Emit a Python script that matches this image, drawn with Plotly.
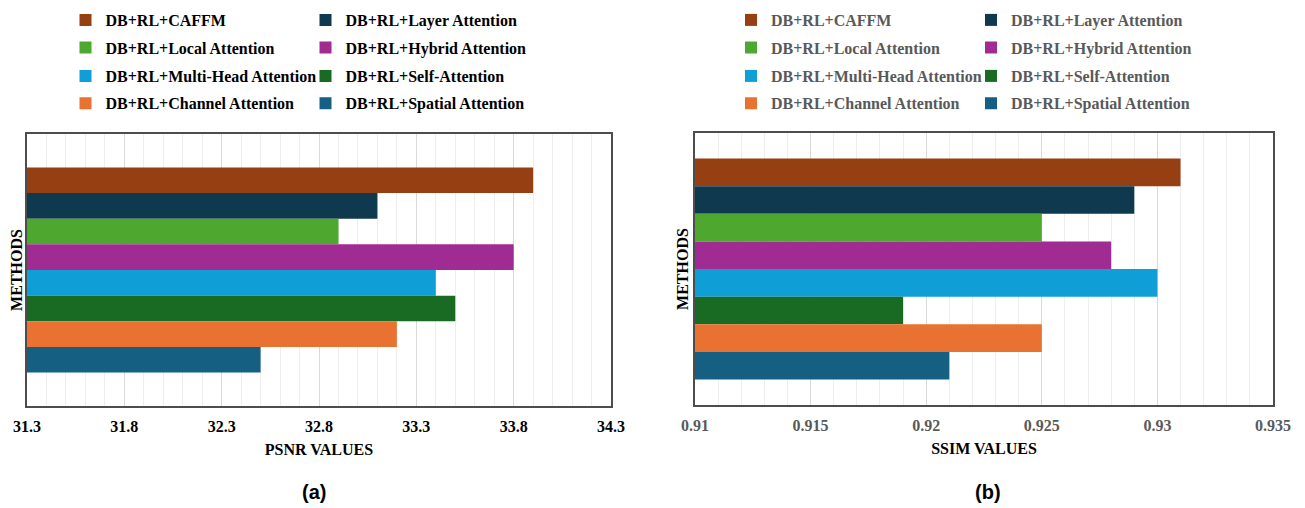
import plotly.graph_objects as go

# ---------------- data ----------------
METHODS = [
    "DB+RL+CAFFM",
    "DB+RL+Layer Attention",
    "DB+RL+Local Attention",
    "DB+RL+Hybrid Attention",
    "DB+RL+Multi-Head Attention",
    "DB+RL+Self-Attention",
    "DB+RL+Channel Attention",
    "DB+RL+Spatial Attention",
]
PSNR = [33.9, 33.1, 32.9, 33.8, 33.4, 33.5, 33.2, 32.5]
SSIM = [0.931, 0.929, 0.925, 0.928, 0.930, 0.919, 0.925, 0.921]
COLORS = ["#963F12", "#0E394F", "#4EA72E", "#A02B93",
          "#0F9ED5", "#196B24", "#E97132", "#156082"]
CATEGORY = ["Methods"]

PSNR_TICKS = [31.3, 31.8, 32.3, 32.8, 33.3, 33.8, 34.3]
PSNR_TICKTEXT = ["31.3", "31.8", "32.3", "32.8", "33.3", "33.8", "34.3"]
SSIM_TICKS = [0.91, 0.915, 0.92, 0.925, 0.93, 0.935]
SSIM_TICKTEXT = ["0.91", "0.915", "0.92", "0.925", "0.93", "0.935"]

# ---------------- style ----------------
# the page body has an 8px default margin, so the figure is drawn at (8, 8)
OFF = 8
W, H = 1305 - OFF, 508 - OFF
SERIF = "Liberation Serif"
LEFT_TXT = "#000000"
RIGHT_TXT = "#595959"
FRAME = "#4d4d4d"

fig = go.Figure()

legend_names_left = ["legend", "legend2", "legend3", "legend4"]
legend_names_right = ["legend5", "legend6", "legend7", "legend8"]

for i, m in enumerate(METHODS):
    fig.add_trace(go.Bar(
        x=[PSNR[i]], y=CATEGORY, orientation="h", name=m,
        marker=dict(color=COLORS[i], line=dict(width=0)),
        xaxis="x", yaxis="y", legend=legend_names_left[i // 2],
    ))
for i, m in enumerate(METHODS):
    fig.add_trace(go.Bar(
        x=[SSIM[i]], y=CATEGORY, orientation="h", name=m,
        marker=dict(color=COLORS[i], line=dict(width=0)),
        xaxis="x2", yaxis="y2", legend=legend_names_right[i // 2],
    ))


def px_x(v):
    return (v - OFF) / W


def px_y(v):
    return 1 - (v - OFF) / H


def axis_font(color):
    return dict(family=SERIF, size=16, color=color, weight="bold")


common_x = dict(
    showline=True, mirror=True, linecolor=FRAME, linewidth=1.8,
    ticks="", showgrid=True, gridcolor="#d9d9d9", gridwidth=1,
    zeroline=False, tickmode="array", ticklabelstandoff=5,
    automargin=False,
)
common_y = dict(
    showline=True, mirror=True, linecolor=FRAME, linewidth=1.8,
    showticklabels=False, ticks="", showgrid=False, zeroline=False,
    automargin=False,
)

fig.update_layout(
    width=W, height=H,
    margin=dict(l=0, r=0, t=0, b=0, autoexpand=False),
    paper_bgcolor="white", plot_bgcolor="white",
    barmode="group", bargap=0.1875, bargroupgap=0,
    xaxis=dict(
        **common_x,
        domain=[px_x(27), px_x(611)], anchor="y",
        range=[31.3, 34.3], tickvals=PSNR_TICKS, ticktext=PSNR_TICKTEXT,
        tickfont=axis_font(LEFT_TXT),
        minor=dict(tick0=31.3, dtick=0.1, showgrid=True, gridcolor="#eeeeee", ticks=""),
        title=dict(text="PSNR VALUES", font=axis_font(LEFT_TXT), standoff=10),
    ),
    yaxis=dict(
        **common_y,
        domain=[px_y(406), px_y(134)], anchor="x",
        range=[0.539, -0.539],
        title=dict(text="METHODS", font=axis_font(LEFT_TXT), standoff=1),
    ),
    xaxis2=dict(
        **common_x,
        domain=[px_x(695), px_x(1273)], anchor="y2",
        range=[0.91, 0.935], tickvals=SSIM_TICKS, ticktext=SSIM_TICKTEXT,
        tickfont=axis_font(RIGHT_TXT),
        minor=dict(tick0=0.91, dtick=0.001, showgrid=True, gridcolor="#eeeeee", ticks=""),
        title=dict(text="SSIM VALUES", font=axis_font(LEFT_TXT), standoff=10),
    ),
    yaxis2=dict(
        **common_y,
        domain=[px_y(405), px_y(133)], anchor="x2",
        range=[0.5, -0.5],
        title=dict(text="METHODS", font=axis_font(LEFT_TXT), standoff=1),
    ),
)

row_y = [20, 47.7, 76, 103.3]


def legend_cfg(x_left, yc, color):
    return dict(
        orientation="h", x=px_x(x_left), xanchor="left",
        y=px_y(yc), yanchor="middle",
        entrywidth=195, entrywidthmode="pixels",
        bgcolor="rgba(0,0,0,0)", borderwidth=0,
        font=dict(family=SERIF, size=16, color=color, weight="bold"),
        traceorder="normal",
    )


legend_layout = {}
for r, name in enumerate(legend_names_left):
    legend_layout[name] = legend_cfg(65.5, row_y[r], LEFT_TXT)
for r, name in enumerate(legend_names_right):
    legend_layout[name] = legend_cfg(731, row_y[r], RIGHT_TXT)
fig.update_layout(**legend_layout)

fig.add_annotation(text="(a)", x=px_x(314), y=px_y(492), xref="paper", yref="paper",
                   showarrow=False, xanchor="center", yanchor="middle",
                   font=dict(family="Liberation Sans", size=20, color="black", weight="bold"))
fig.add_annotation(text="(b)", x=px_x(988), y=px_y(492), xref="paper", yref="paper",
                   showarrow=False, xanchor="center", yanchor="middle",
                   font=dict(family="Liberation Sans", size=20, color="black", weight="bold"))

fig.write_html("out.html")
